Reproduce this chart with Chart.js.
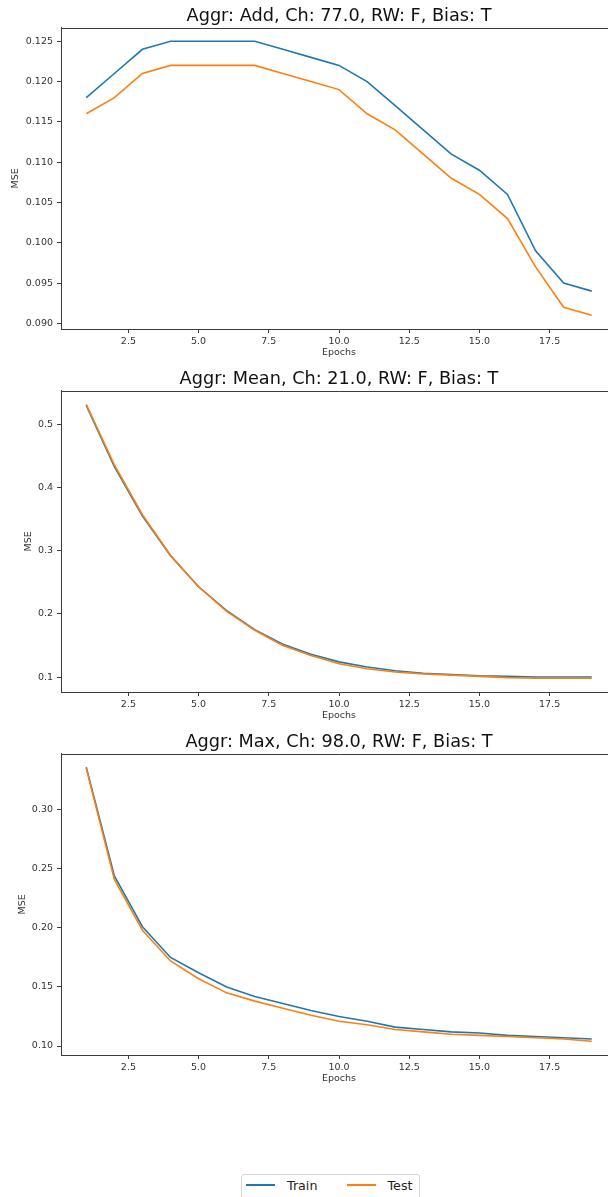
<!DOCTYPE html>
<html>
<head>
<meta charset="utf-8">
<title>MSE per epoch</title>
<script src="https://cdn.jsdelivr.net/npm/chart.js@4.4.1/dist/chart.umd.min.js"></script>
<style>
  html, body { margin: 0; padding: 0; background: #fff; }
  body { width: 608px; height: 1197px; overflow: hidden; position: relative; font-family: 'DejaVu Sans', sans-serif; }
  canvas { position: absolute; left: 0; }
  #legend {
    position: absolute; left: 241px; top: 1174px; width: 179px; height: 30px;
    border: 1px solid #d6d6d6; border-radius: 3px; box-sizing: border-box; background: #fff;
  }
  #legend .item { position: absolute; top: 0; height: 20px; display: flex; align-items: center; }
  #legend .line { width: 29px; height: 1.6px; margin-right: 12px; }
  #legend .label { font-size: 12.7px; color: #222; }
</style>
</head>
<body>
<canvas id="addChart"></canvas>
<canvas id="meanChart"></canvas>
<canvas id="maxChart"></canvas>
<div id="legend"></div>
<script>
const epochs = [1, 2, 3, 4, 5, 6, 7, 8, 9, 10, 11, 12, 13, 14, 15, 16, 17, 18, 19];
const xTicks = [2.5, 5.0, 7.5, 10.0, 12.5, 15.0, 17.5];

const seriesNames = ['Train', 'Test'];
const seriesColors = ['#1f77b4', '#ff7f0e'];

// Aggr: Add
const addTrain = [0.118, 0.121, 0.124, 0.125, 0.125, 0.125, 0.125, 0.124, 0.123, 0.122, 0.120, 0.117, 0.114, 0.111, 0.109, 0.106, 0.099, 0.095, 0.094];
const addTest  = [0.116, 0.118, 0.121, 0.122, 0.122, 0.122, 0.122, 0.121, 0.120, 0.119, 0.116, 0.114, 0.111, 0.108, 0.106, 0.103, 0.097, 0.092, 0.091];
const addTicks = [0.090, 0.095, 0.100, 0.105, 0.110, 0.115, 0.120, 0.125];

// Aggr: Mean
const meanTrain = [0.530, 0.433, 0.355, 0.292, 0.243, 0.205, 0.175, 0.152, 0.136, 0.124, 0.116, 0.110, 0.106, 0.104, 0.102, 0.101, 0.100, 0.100, 0.100];
const meanTest  = [0.532, 0.436, 0.357, 0.293, 0.243, 0.204, 0.174, 0.150, 0.134, 0.121, 0.113, 0.108, 0.105, 0.103, 0.101, 0.099, 0.098, 0.098, 0.098];
const meanTicks = [0.1, 0.2, 0.3, 0.4, 0.5];

// Aggr: Max
const maxTrain = [0.336, 0.244, 0.201, 0.175, 0.162, 0.150, 0.142, 0.136, 0.130, 0.125, 0.121, 0.116, 0.114, 0.112, 0.111, 0.109, 0.108, 0.107, 0.106];
const maxTest  = [0.335, 0.241, 0.198, 0.172, 0.157, 0.145, 0.138, 0.132, 0.126, 0.121, 0.118, 0.114, 0.112, 0.110, 0.109, 0.108, 0.107, 0.106, 0.104];
const maxTicks = [0.10, 0.15, 0.20, 0.25, 0.30];

const FONT = 'DejaVu Sans';
const INK = '#333';
const SPINE = '#3a3a3a';

// top and right spines (Chart.js only draws the axis borders)
const framePlugin = {
  id: 'frame',
  afterDraw(chart) {
    const { ctx, chartArea: a } = chart;
    const top = Math.round(a.top) + 0.5;
    const right = Math.round(a.right) + 0.5;
    ctx.save();
    ctx.strokeStyle = SPINE;
    ctx.lineWidth = 1;
    ctx.beginPath();
    ctx.moveTo(a.left, top);
    ctx.lineTo(right, top);
    ctx.lineTo(right, a.bottom);
    ctx.stroke();
    ctx.restore();
  }
};

// 5% margin around the data, like the usual autoscaling
function padded(lo, hi) {
  const m = (hi - lo) * 0.05;
  return { min: lo - m, max: hi + m };
}

function makeChart(id, top, title, train, test, yTicks, digits, yTitlePad) {
  const canvas = document.getElementById(id);
  canvas.width = 640;
  canvas.height = 361;
  canvas.style.top = top + 'px';

  const xr = padded(Math.min(...epochs), Math.max(...epochs));
  const all = train.concat(test);
  const yr = padded(Math.min(...all), Math.max(...all));

  const series = [train, test];
  const datasets = series.map((vals, i) => ({
    label: seriesNames[i],
    data: epochs.map((e, j) => ({ x: e, y: vals[j] })),
    borderColor: seriesColors[i],
    backgroundColor: seriesColors[i],
    borderWidth: 1.6,
    pointRadius: 0,
    tension: 0,
    order: series.length - i
  }));

  return new Chart(canvas, {
    type: 'line',
    data: { datasets },
    options: {
      responsive: false,
      animation: false,
      devicePixelRatio: 1,
      layout: { padding: { left: 0, right: 23, top: 0, bottom: 0 } },
      plugins: {
        legend: { display: false },
        tooltip: { enabled: false },
        title: {
          display: true,
          text: title,
          fullSize: false,
          color: '#111',
          font: { family: FONT, size: 17.7, weight: 'normal' },
          padding: { top: 6.1, bottom: 0.2 }
        }
      },
      scales: {
        x: {
          type: 'linear',
          min: xr.min,
          max: xr.max,
          afterBuildTicks: (s) => { s.ticks = xTicks.map(v => ({ value: v })); },
          afterFit: (s) => { s.height = 32; },
          ticks: {
            color: INK,
            padding: 2.5,
            font: { family: FONT, size: 9.5 },
            callback: (v) => Number(v).toFixed(1)
          },
          grid: { drawOnChartArea: false, drawTicks: true, tickLength: 4, color: SPINE },
          border: { display: true, color: SPINE, width: 1 },
          title: {
            display: true,
            text: 'Epochs',
            color: INK,
            font: { family: FONT, size: 9.5 },
            padding: { top: 0, bottom: 2.8 }
          }
        },
        y: {
          type: 'linear',
          min: yr.min,
          max: yr.max,
          afterBuildTicks: (s) => { s.ticks = yTicks.map(v => ({ value: v })); },
          afterFit: (s) => { s.width = 61; },
          ticks: {
            color: INK,
            padding: 4,
            font: { family: FONT, size: 9.5 },
            callback: (v) => Number(v).toFixed(digits)
          },
          grid: { drawOnChartArea: false, drawTicks: true, tickLength: 4, color: SPINE },
          border: { display: true, color: SPINE, width: 1 },
          title: {
            display: true,
            text: 'MSE',
            color: INK,
            font: { family: FONT, size: 9.5 },
            padding: { top: yTitlePad, bottom: 0 }
          }
        }
      }
    },
    plugins: [framePlugin]
  });
}

makeChart('addChart', 0, 'Aggr: Add, Ch: 77.0, RW: F, Bias: T', addTrain, addTest, addTicks, 3, 10.3);
makeChart('meanChart', 362.5, 'Aggr: Mean, Ch: 21.0, RW: F, Bias: T', meanTrain, meanTest, meanTicks, 1, 23.3);
makeChart('maxChart', 725.5, 'Aggr: Max, Ch: 98.0, RW: F, Bias: T', maxTrain, maxTest, maxTicks, 2, 17.3);

// shared legend under the three panels
const legend = document.getElementById('legend');
const itemLeft = [4, 104.5];
seriesNames.forEach((name, i) => {
  const item = document.createElement('div');
  item.className = 'item';
  item.style.left = itemLeft[i] + 'px';
  const line = document.createElement('span');
  line.className = 'line';
  line.style.background = seriesColors[i];
  const label = document.createElement('span');
  label.className = 'label';
  label.textContent = name;
  item.appendChild(line);
  item.appendChild(label);
  legend.appendChild(item);
});
</script>
</body>
</html>
